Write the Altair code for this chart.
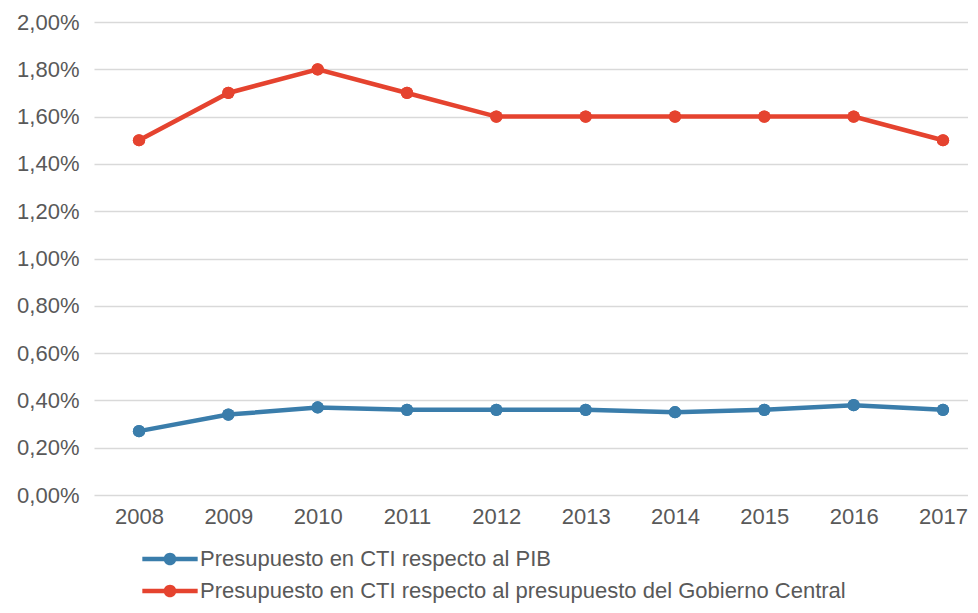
import altair as alt
import pandas as pd

years = [2008, 2009, 2010, 2011, 2012, 2013, 2014, 2015, 2016, 2017]
pib = [0.27, 0.34, 0.37, 0.36, 0.36, 0.36, 0.35, 0.36, 0.38, 0.36]
gobierno = [1.50, 1.70, 1.80, 1.70, 1.60, 1.60, 1.60, 1.60, 1.60, 1.50]
series_names = [
    "Presupuesto en CTI respecto al PIB",
    "Presupuesto en CTI respecto al presupuesto del Gobierno Central",
]
series_colors = ["#3A7DAB", "#E5432F"]
y_ticks = [0.0, 0.2, 0.4, 0.6, 0.8, 1.0, 1.2, 1.4, 1.6, 1.8, 2.0]

rows = []
for name, vals in zip(series_names, [pib, gobierno]):
    for yr, v in zip(years, vals):
        rows.append({"year": yr, "value": v / 100.0, "serie": name})
df = pd.DataFrame(rows)

FONT = "Liberation Sans"
TXT = "#595959"

legend_symbol = (
    "M -1.75 -0.14 L 1.75 -0.14 L 1.75 0.14 L -1.75 0.14 Z "
    "M 0.4 0 A 0.4 0.4 0 1 1 -0.4 0 A 0.4 0.4 0 1 1 0.4 0 Z"
)

x_enc = alt.X(
    "year:Q",
    scale=alt.Scale(domain=[2007.496, 2017.28], nice=False, zero=False),
    axis=alt.Axis(
        values=years, format="d", grid=False, domain=False, ticks=False,
        labelFontSize=22, labelColor=TXT, labelFont=FONT, labelPadding=11,
        title=None,
    ),
)
y_enc = alt.Y(
    "value:Q",
    scale=alt.Scale(domain=[0, 0.02], nice=False),
    axis=alt.Axis(
        values=[t / 100.0 for t in y_ticks],
        labelExpr="replace(format(datum.value, '.2%'), '.', ',')",
        grid=True, gridColor="#D9D9D9", gridWidth=1.3,
        domain=False, ticks=False,
        labelFontSize=22, labelColor=TXT, labelFont=FONT, labelPadding=15,
        title=None,
    ),
)
color_scale = alt.Scale(domain=series_names, range=series_colors)
legend = alt.Legend(
    title=None, orient="none", legendX=60, legendY=521,
    direction="vertical", symbolType=legend_symbol, symbolSize=1000,
    symbolStrokeWidth=0, symbolOpacity=1,
    labelFontSize=22, labelColor=TXT, labelFont=FONT,
    labelOffset=14, rowPadding=5, padding=0, labelLimit=900,
)
color_enc = alt.Color("serie:N", scale=color_scale, legend=legend)

lines = alt.Chart(df).mark_line(strokeWidth=4.5).encode(
    x=x_enc, y=y_enc, color=color_enc,
)
points = alt.Chart(df).mark_point(filled=True, size=150, opacity=1).encode(
    x=x_enc, y=y_enc, color=color_enc,
)

chart = (
    alt.layer(points, lines, points)
    .properties(
        width=874, height=473,
        autosize=alt.AutoSizeParams(type="none"),
        padding={"left": 86, "top": 14, "right": 0, "bottom": 110},
    )
    .configure_view(stroke=None)
)

chart.save("out.html", embed_options={"renderer": "svg", "actions": False})
